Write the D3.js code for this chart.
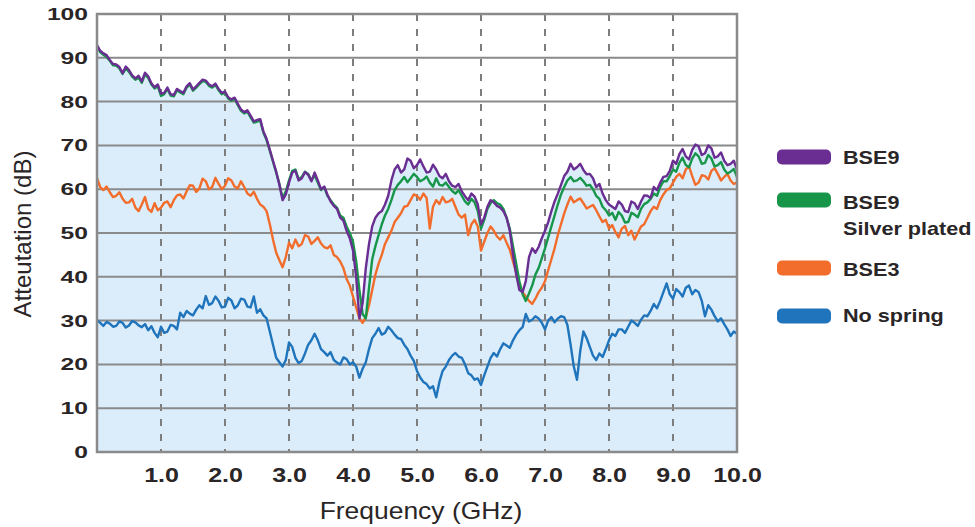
<!DOCTYPE html>
<html>
<head>
<meta charset="utf-8">
<script src="https://cdn.jsdelivr.net/npm/d3@7"></script>
<style>
  body { margin: 0; background: #fff; }
  text { font-family: "Liberation Sans", Arial, sans-serif; fill: #2a2526; }
</style>
</head>
<body>
<svg width="975" height="527"></svg>
<script>
// frequency samples (GHz)
var freqGHz = [
  0.00,0.05,0.10,0.15,0.20,0.25,0.30,0.35,0.40,0.45,
  0.50,0.55,0.60,0.65,0.70,0.75,0.80,0.85,0.90,0.95,
  1.00,1.05,1.10,1.15,1.20,1.25,1.30,1.35,1.40,1.45,
  1.50,1.55,1.60,1.65,1.70,1.75,1.80,1.85,1.90,1.95,
  2.00,2.05,2.10,2.15,2.20,2.25,2.30,2.35,2.40,2.45,
  2.50,2.55,2.60,2.65,2.70,2.75,2.80,2.85,2.90,2.95,
  3.00,3.05,3.10,3.15,3.20,3.25,3.30,3.35,3.40,3.45,
  3.50,3.55,3.60,3.65,3.70,3.75,3.80,3.85,3.90,3.95,
  4.00,4.05,4.10,4.15,4.20,4.25,4.30,4.35,4.40,4.45,
  4.50,4.55,4.60,4.65,4.70,4.75,4.80,4.85,4.90,4.95,
  5.00,5.05,5.10,5.15,5.20,5.25,5.30,5.35,5.40,5.45,
  5.50,5.55,5.60,5.65,5.70,5.75,5.80,5.85,5.90,5.95,
  6.00,6.05,6.10,6.15,6.20,6.25,6.30,6.35,6.40,6.45,
  6.50,6.55,6.60,6.65,6.70,6.75,6.80,6.85,6.90,6.95,
  7.00,7.05,7.10,7.15,7.20,7.25,7.30,7.35,7.40,7.45,
  7.50,7.55,7.60,7.65,7.70,7.75,7.80,7.85,7.90,7.95,
  8.00,8.05,8.10,8.15,8.20,8.25,8.30,8.35,8.40,8.45,
  8.50,8.55,8.60,8.65,8.70,8.75,8.80,8.85,8.90,8.95,
  9.00,9.05,9.10,9.15,9.20,9.25,9.30,9.35,9.40,9.45,
  9.50,9.55,9.60,9.65,9.70,9.75,9.80,9.85,9.90,9.95,
  10.00];

// attenuation (dB)
var bse9 = [
  92.9,91.6,91.0,90.6,89.5,88.6,88.5,87.9,86.5,88.0,
  87.2,86.0,85.3,85.9,84.6,86.6,85.8,84.2,83.3,83.9,
  81.8,82.0,83.2,81.7,81.5,82.9,82.4,82.0,83.5,84.2,
  82.8,83.5,84.3,85.0,84.8,83.9,83.5,84.1,82.9,82.0,
  82.3,81.0,80.5,80.9,79.5,78.2,77.6,78.0,76.8,75.5,
  75.8,76.0,73.2,71.5,69.0,66.5,64.0,61.0,57.5,58.8,
  61.5,63.8,64.2,62.0,62.5,63.9,63.3,61.8,63.8,62.0,
  60.0,60.6,58.8,57.2,56.2,55.5,53.5,52.8,50.5,48.8,
  46.0,40.0,30.5,34.0,42.0,47.5,51.5,53.5,54.5,55.0,
  56.5,58.5,62.0,64.5,65.5,63.8,64.5,67.0,66.5,64.8,
  65.5,66.8,65.2,63.8,64.0,65.6,64.5,63.0,62.5,63.5,
  61.8,60.8,60.5,61.2,59.5,58.4,57.5,59.0,58.3,56.5,
  52.0,53.5,56.0,57.5,57.0,56.2,55.8,55.0,53.5,50.5,
  45.0,40.5,37.0,36.5,39.0,44.5,46.5,45.5,46.8,48.8,
  50.5,52.5,55.0,57.2,59.0,61.0,63.0,64.0,65.8,64.5,
  65.0,65.8,64.4,63.4,63.5,62.5,60.5,61.2,59.0,57.5,
  56.5,56.0,55.5,57.2,56.5,55.0,54.8,57.2,56.8,55.5,
  57.2,58.6,58.5,58.0,60.5,59.8,61.5,62.8,63.0,64.2,
  66.5,65.8,68.0,69.2,67.5,66.8,69.0,70.2,69.8,67.8,
  68.2,70.0,69.3,67.2,67.5,68.4,66.5,65.5,65.8,66.5,
  64.5];

var bse9Silver = [
  92.6,91.3,90.7,90.2,89.3,88.3,88.2,87.6,86.3,87.6,
  86.8,85.7,85.0,85.5,84.3,86.2,85.4,83.9,83.0,83.5,
  81.3,81.7,82.9,81.4,81.2,82.6,82.1,81.7,83.2,83.9,
  82.5,83.2,84.0,84.7,84.5,83.6,83.2,83.8,82.6,81.7,
  82.0,80.7,80.2,80.6,79.2,77.9,77.3,77.7,76.4,75.2,
  75.4,75.7,72.9,71.2,68.8,66.3,63.8,61.2,58.0,59.5,
  62.0,64.2,64.5,62.3,62.8,64.0,63.5,62.0,63.2,61.5,
  59.8,60.5,58.5,57.5,56.5,55.8,54.0,53.5,51.5,50.0,
  48.0,43.5,37.0,31.5,30.5,37.5,44.0,47.0,49.5,52.0,
  54.0,55.5,57.5,59.8,61.0,61.8,62.8,61.6,62.5,63.5,
  62.8,61.8,62.2,62.9,61.5,60.6,62.5,61.0,60.8,61.5,
  60.5,59.6,59.0,59.8,58.5,57.2,56.5,57.8,57.0,55.0,
  51.0,53.0,55.5,56.8,57.5,56.8,56.5,55.5,53.5,51.0,
  47.0,43.0,39.0,36.0,34.5,36.2,38.0,40.5,42.0,44.2,
  46.5,49.0,51.5,54.0,56.5,58.8,60.5,62.0,62.8,61.8,
  62.0,62.6,61.8,60.8,61.0,60.0,58.5,57.8,56.0,55.2,
  54.0,54.6,53.0,54.8,54.0,52.4,52.5,54.6,54.2,53.6,
  55.5,56.6,57.0,57.8,59.0,58.5,60.5,61.8,61.8,63.0,
  64.5,64.0,66.0,67.2,65.5,65.0,67.0,68.2,67.5,65.8,
  66.0,67.8,67.0,65.2,65.5,66.2,64.5,63.6,64.0,64.6,
  62.8];

var bse3 = [
  62.5,60.5,59.8,60.6,59.3,58.2,58.5,59.3,57.8,56.9,
  57.0,57.8,55.8,55.0,56.5,58.2,55.5,54.8,56.8,55.2,
  55.8,56.9,57.2,55.9,57.5,58.6,58.8,57.9,59.5,60.9,
  60.8,59.4,60.2,62.4,61.8,60.0,60.5,62.6,61.2,60.0,
  60.8,62.5,62.0,60.6,60.2,61.8,60.5,59.0,58.5,59.4,
  57.8,56.5,56.0,55.0,52.0,48.5,45.5,43.8,42.2,44.5,
  47.8,46.5,48.5,47.0,47.5,49.5,49.2,47.5,48.2,49.0,
  47.6,46.8,46.5,47.2,45.0,44.5,43.5,42.0,39.5,38.0,
  35.5,33.0,30.5,29.5,30.8,33.5,37.0,40.5,43.0,45.0,
  47.5,49.0,50.5,52.5,53.5,54.5,56.0,56.2,57.5,58.8,
  58.5,57.6,59.0,58.0,51.0,56.0,57.5,56.6,58.2,57.0,
  57.2,57.8,56.0,54.2,53.5,54.2,49.5,52.0,53.0,51.5,
  46.0,48.0,50.0,51.5,50.5,49.2,48.5,49.5,47.8,46.2,
  43.5,41.0,38.5,36.5,35.5,34.5,33.8,35.0,36.5,37.5,
  39.0,41.5,44.0,46.5,49.5,52.0,54.5,56.5,58.3,57.0,
  57.5,57.9,56.8,55.6,56.0,56.4,55.2,53.8,52.5,53.0,
  51.0,51.8,50.2,49.0,51.0,51.6,49.5,50.5,48.5,50.0,
  51.5,52.0,53.5,55.0,56.0,55.5,57.5,58.8,59.8,60.2,
  61.5,62.8,63.5,62.5,64.5,65.2,63.0,61.0,61.5,63.2,
  63.0,62.2,64.2,64.8,63.5,62.0,62.8,63.5,62.0,61.2,
  61.5];

var noSpring = [
  30.1,29.5,28.8,29.7,29.3,28.6,28.8,29.8,29.5,28.4,
  28.9,29.9,29.6,28.9,28.5,29.2,27.8,28.7,27.2,26.2,
  28.6,27.2,27.5,29.0,28.8,28.0,31.8,30.8,32.2,31.6,
  31.2,32.5,33.5,32.8,35.6,33.6,34.0,35.5,34.5,33.0,
  33.2,35.2,34.6,32.8,33.5,35.0,34.8,33.2,33.0,35.5,
  31.8,32.6,31.2,30.5,27.5,24.5,21.5,20.5,19.5,21.0,
  25.0,24.0,21.5,20.3,20.8,22.5,24.5,25.5,27.0,25.5,
  23.5,22.8,22.0,22.8,21.0,20.4,20.0,21.6,21.2,20.0,
  20.5,19.5,17.0,19.0,20.5,23.5,26.0,27.0,28.3,26.8,
  27.2,28.6,27.8,26.8,26.0,25.8,24.5,23.5,22.0,20.8,
  18.5,17.0,16.0,15.5,14.5,15.0,12.5,16.0,18.5,19.5,
  21.0,22.0,22.6,21.8,21.5,20.0,18.0,17.5,16.5,16.8,
  15.3,17.5,19.5,21.5,22.6,21.8,23.5,24.8,24.3,23.8,
  25.5,26.8,27.8,28.5,31.5,29.8,30.2,31.0,30.5,29.5,
  28.0,30.0,30.8,29.6,30.5,31.0,30.8,29.0,24.5,19.5,
  16.5,23.0,27.5,26.0,24.0,22.0,21.0,22.5,21.7,23.5,
  25.5,27.0,26.5,28.0,28.0,27.2,28.6,30.0,29.5,28.8,
  30.2,31.2,31.0,32.2,33.8,32.8,34.5,36.5,38.5,36.0,
  35.0,37.2,36.5,35.5,37.5,38.0,36.0,37.0,36.5,34.5,
  31.0,33.5,32.5,31.0,29.8,30.5,29.2,28.0,26.5,27.5,
  27.0];

var seriesNames = ["BSE9", "BSE9 Silver plated", "BSE3", "No spring"];
var seriesColors = ["#6a2d91", "#17964a", "#f26c2b", "#1f74bb"];
var xTicks = [1, 2, 3, 4, 5, 6, 7, 8, 9, 10];
var yTicks = [0, 10, 20, 30, 40, 50, 60, 70, 80, 90, 100];

var allSeries = [bse9, bse9Silver, bse3, noSpring];

var svg = d3.select("svg");

var x = d3.scaleLinear().domain([0, 10]).range([97, 737]);
var y = d3.scaleLinear().domain([0, 100]).range([452, 14]);

// light blue fill under the top envelope
var envelope = freqGHz.map(function(f, i) {
  return [f, Math.max(bse9[i], bse9Silver[i], bse3[i], noSpring[i])];
});
var area = d3.area()
  .x(function(d) { return x(d[0]); })
  .y0(y(0))
  .y1(function(d) { return y(d[1]); });
svg.append("path")
  .datum(envelope)
  .attr("d", area)
  .attr("fill", "#dbedfb");

// grid
svg.append("g").selectAll("line")
  .data(xTicks.slice(0, -1))
  .enter().append("line")
  .attr("x1", function(d) { return x(d); })
  .attr("x2", function(d) { return x(d); })
  .attr("y1", y(100))
  .attr("y2", y(0))
  .attr("stroke", "#7d7d7d")
  .attr("stroke-width", 2)
  .attr("stroke-dasharray", "7,8");

svg.append("g").selectAll("line")
  .data(yTicks.slice(1, -1))
  .enter().append("line")
  .attr("x1", x(0))
  .attr("x2", x(10))
  .attr("y1", function(d) { return y(d); })
  .attr("y2", function(d) { return y(d); })
  .attr("stroke", "#8a8a8a")
  .attr("stroke-width", 2);

// series lines, "No spring" first so BSE9 ends on top
var line = d3.line()
  .x(function(d, i) { return x(freqGHz[i]); })
  .y(function(d) { return y(d); });

[3, 2, 1, 0].forEach(function(k) {
  svg.append("path")
    .datum(allSeries[k])
    .attr("d", line)
    .attr("fill", "none")
    .attr("stroke", seriesColors[k])
    .attr("stroke-width", 2.4)
    .attr("stroke-linejoin", "round");
});

// frame
svg.append("rect")
  .attr("x", x(0))
  .attr("y", y(100))
  .attr("width", x(10) - x(0))
  .attr("height", y(0) - y(100))
  .attr("fill", "none")
  .attr("stroke", "#8a8a8a")
  .attr("stroke-width", 2.5);

// axes
var ySx = 1.45;
var yAxis = svg.append("g")
  .attr("transform", "translate(" + x(0) + ",0)")
  .call(d3.axisLeft(y).tickValues(yTicks).tickSize(0).tickPadding(9));
yAxis.select(".domain").remove();
yAxis.selectAll("text")
  .attr("x", -9 / ySx)
  .attr("transform", "scale(" + ySx + ",1)")
  .style("font-size", "17px")
  .style("font-weight", "bold")
  .style("font-family", "Liberation Sans, Arial, sans-serif")
  .attr("fill", "#2a2526");

var xSx = 1.25;
var xAxis = svg.append("g")
  .attr("transform", "translate(0," + y(0) + ")")
  .call(d3.axisBottom(x).tickValues(xTicks).tickSize(0).tickFormat(d3.format(".1f")));
xAxis.select(".domain").remove();
xAxis.selectAll("text")
  .attr("y", 23)
  .attr("dy", "0.36em")
  .attr("transform", "scale(" + xSx + ",1)")
  .style("font-size", "20px")
  .style("font-weight", "bold")
  .style("font-family", "Liberation Sans, Arial, sans-serif")
  .attr("fill", "#2a2526");

// axis titles
svg.append("text")
  .attr("transform", "translate(421,519) scale(1.15,1)")
  .attr("text-anchor", "middle")
  .style("font-size", "23px")
  .text("Frequency (GHz)");

svg.append("text")
  .attr("transform", "translate(31,234) rotate(-90)")
  .attr("text-anchor", "middle")
  .style("font-size", "24px")
  .text("Atteutation (dB)");

// legend
var legendRows = [
  { swatchY: 157, lines: [["BSE9", 158]] },
  { swatchY: 200, lines: [["BSE9", 203], ["Silver plated", 229]] },
  { swatchY: 268, lines: [["BSE3", 270]] },
  { swatchY: 316, lines: [["No spring", 316]] }
];
var legend = svg.append("g");
legendRows.forEach(function(row, k) {
  legend.append("rect")
    .attr("x", 777)
    .attr("y", row.swatchY - 7.5)
    .attr("width", 54)
    .attr("height", 15)
    .attr("rx", 5)
    .attr("fill", seriesColors[k]);
  row.lines.forEach(function(l) {
    legend.append("text")
      .attr("transform", "translate(843," + l[1] + ") scale(1.2,1)")
      .attr("dy", "0.36em")
      .style("font-size", "18px")
      .style("font-weight", "bold")
      .text(l[0]);
  });
});
</script>
</body>
</html>
